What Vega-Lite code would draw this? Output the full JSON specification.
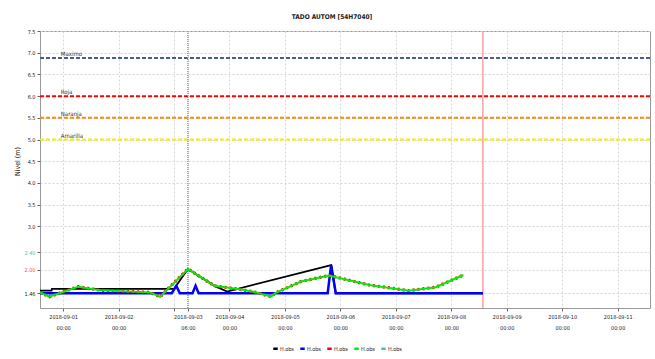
{
  "$schema": "https://vega.github.io/schema/vega-lite/v6.json",
  "width": 610,
  "height": 277,
  "autosize": "none",
  "padding": {"left": 40, "top": 31, "right": 5, "bottom": 51},
  "background": "white",
  "title": {"text": "TADO AUTOM  [54H7040]", "fontSize": 6.5, "fontWeight": "bold", "font": "DejaVu Sans Condensed", "anchor": "middle", "frame": "bounds", "offset": 9, "color": "#222"},
  "config": {
    "view": {"stroke": "#999", "strokeWidth": 1},
    "font": "DejaVu Sans Condensed",
    "axis": {"labelFont": "DejaVu Sans Condensed", "labelFontSize": 5.5, "labelColor": "#222", "gridColor": "#d6d6d6", "gridDash": [2, 2], "domain": false, "tickColor": "#666", "tickSize": 3}
  },
  "datasets": {
    "series": [
      {"t": "2018-08-31T14:00", "v": 1.52, "s": "s1"},
      {"t": "2018-08-31T19:00", "v": 1.52, "s": "s1"},
      {"t": "2018-08-31T19:10", "v": 1.56, "s": "s1"},
      {"t": "2018-09-03T00:00", "v": 1.56, "s": "s1"},
      {"t": "2018-09-03T06:00", "v": 2.02, "s": "s1"},
      {"t": "2018-09-03T17:30", "v": 1.63, "s": "s1"},
      {"t": "2018-09-03T23:00", "v": 1.5, "s": "s1"},
      {"t": "2018-09-05T20:00", "v": 2.11, "s": "s1"},
      {"t": "2018-09-05T22:00", "v": 1.46, "s": "s1"},
      {"t": "2018-09-08T13:40", "v": 1.46, "s": "s1"},
      {"t": "2018-08-31T14:00", "v": 1.46, "s": "s2"},
      {"t": "2018-09-02T23:00", "v": 1.46, "s": "s2"},
      {"t": "2018-09-03T01:00", "v": 1.63, "s": "s2"},
      {"t": "2018-09-03T02:30", "v": 1.46, "s": "s2"},
      {"t": "2018-09-03T08:00", "v": 1.46, "s": "s2"},
      {"t": "2018-09-03T09:20", "v": 1.63, "s": "s2"},
      {"t": "2018-09-03T10:40", "v": 1.46, "s": "s2"},
      {"t": "2018-09-05T18:30", "v": 1.46, "s": "s2"},
      {"t": "2018-09-05T20:00", "v": 2.11, "s": "s2"},
      {"t": "2018-09-05T22:00", "v": 1.46, "s": "s2"},
      {"t": "2018-09-08T13:40", "v": 1.46, "s": "s2"},
      {"t": "2018-08-31T14:00", "v": 1.48, "s": "s3"},
      {"t": "2018-08-31T18:00", "v": 1.38, "s": "s3"},
      {"t": "2018-09-01T06:30", "v": 1.61, "s": "s3"},
      {"t": "2018-09-01T16:00", "v": 1.53, "s": "s3"},
      {"t": "2018-09-02T13:30", "v": 1.48, "s": "s3"},
      {"t": "2018-09-02T18:00", "v": 1.38, "s": "s3"},
      {"t": "2018-09-03T06:00", "v": 2.02, "s": "s3"},
      {"t": "2018-09-03T17:30", "v": 1.63, "s": "s3"},
      {"t": "2018-09-04T05:45", "v": 1.54, "s": "s3"},
      {"t": "2018-09-04T11:30", "v": 1.48, "s": "s3"},
      {"t": "2018-09-04T18:00", "v": 1.38, "s": "s3"},
      {"t": "2018-09-04T20:00", "v": 1.47, "s": "s3"},
      {"t": "2018-09-05T07:00", "v": 1.73, "s": "s3"},
      {"t": "2018-09-05T19:00", "v": 1.87, "s": "s3"},
      {"t": "2018-09-06T12:30", "v": 1.65, "s": "s3"},
      {"t": "2018-09-07T05:30", "v": 1.52, "s": "s3"},
      {"t": "2018-09-07T17:15", "v": 1.6, "s": "s3"},
      {"t": "2018-09-08T05:15", "v": 1.88, "s": "s3"},
      {"t": "2018-08-31T14:00", "v": 1.48, "s": "s4"},
      {"t": "2018-08-31T18:00", "v": 1.38, "s": "s4"},
      {"t": "2018-09-01T06:30", "v": 1.61, "s": "s4"},
      {"t": "2018-09-01T16:00", "v": 1.53, "s": "s4"},
      {"t": "2018-09-02T13:30", "v": 1.48, "s": "s4"},
      {"t": "2018-09-02T18:00", "v": 1.38, "s": "s4"},
      {"t": "2018-09-03T06:00", "v": 2.02, "s": "s4"},
      {"t": "2018-09-03T17:30", "v": 1.63, "s": "s4"},
      {"t": "2018-09-04T05:45", "v": 1.54, "s": "s4"},
      {"t": "2018-09-04T11:30", "v": 1.48, "s": "s4"},
      {"t": "2018-09-04T18:00", "v": 1.38, "s": "s4"},
      {"t": "2018-09-04T20:00", "v": 1.47, "s": "s4"},
      {"t": "2018-09-05T07:00", "v": 1.73, "s": "s4"},
      {"t": "2018-09-05T19:00", "v": 1.87, "s": "s4"},
      {"t": "2018-09-06T12:30", "v": 1.65, "s": "s4"},
      {"t": "2018-09-07T05:30", "v": 1.52, "s": "s4"},
      {"t": "2018-09-07T17:15", "v": 1.6, "s": "s4"},
      {"t": "2018-09-08T05:15", "v": 1.88, "s": "s4"}
    ],
    "umbrales": [
      {"nombre": "Maximo", "v": 6.88, "t": "2018-08-31T23:00"},
      {"nombre": "Roja", "v": 6.0, "t": "2018-08-31T23:00"},
      {"nombre": "Naranja", "v": 5.5, "t": "2018-08-31T23:00"},
      {"nombre": "Amarilla", "v": 5.0, "t": "2018-08-31T23:00"}
    ],
    "marcas": [
      {"tipo": "ref", "t": "2018-09-03T06:00"},
      {"tipo": "ahora", "t": "2018-09-08T13:40"}
    ]
  },
  "encoding": {
    "x": {
      "field": "t", "type": "temporal",
      "scale": {"domain": ["2018-08-31T14:00", "2018-09-11T14:00"], "nice": false},
      "axis": {
        "title": null,
        "values": ["2018-09-01T00:00", "2018-09-02T00:00", "2018-09-03T00:00", "2018-09-03T06:00", "2018-09-04T00:00", "2018-09-05T00:00", "2018-09-06T00:00", "2018-09-07T00:00", "2018-09-08T00:00", "2018-09-09T00:00", "2018-09-10T00:00", "2018-09-11T00:00"],
        "labelExpr": "timeFormat(datum.value, '%Y-%m-%d %H:%M') == '2018-09-03 00:00' ? '' : [timeFormat(datum.value, '%Y-%m-%d'), timeFormat(datum.value, '%H:%M')]",
        "labelLineHeight": 11,
        "labelPadding": 3,
        "labelOverlap": false
      }
    },
    "y": {
      "field": "v", "type": "quantitative",
      "scale": {"domain": [1.12, 7.5], "nice": false, "zero": false},
      "axis": {
        "title": "Nivel (m)",
        "titleFontSize": 7,
        "titleFontWeight": "normal",
        "titleFont": "DejaVu Sans Condensed",
        "titleX": -20,
        "titleY": 130,
        "titleColor": "#222",
        "values": [1.46, 2.0, 2.4, 3.0, 3.5, 4.0, 4.5, 5.0, 5.5, 6.0, 6.5, 7.0, 7.5],
        "labelExpr": "datum.value < 2.5 ? format(datum.value, '.2f') : format(datum.value, '.1f')",
        "labelColor": {"condition": [{"test": "abs(datum.value - 2.4) < 0.01", "value": "#3cc8c8"}, {"test": "abs(datum.value - 2.0) < 0.01", "value": "#f05050"}], "value": "#222"},
        "labelPadding": 2
      }
    }
  },
  "layer": [
    {
      "data": {"name": "umbrales"},
      "mark": {"type": "rule", "strokeWidth": 2, "strokeDash": [4, 2]},
      "encoding": {
        "x": {"value": 0},
        "x2": {"value": 610},
        "stroke": {"field": "nombre", "type": "nominal", "scale": {"domain": ["Maximo", "Roja", "Naranja", "Amarilla"], "range": ["#4d5a94", "#ff0000", "#f0900a", "#f2f200"]}, "legend": null}
      }
    },
    {
      "data": {"name": "umbrales"},
      "mark": {"type": "text", "align": "left", "baseline": "bottom", "dy": -1, "fontSize": 6, "color": "#333"},
      "encoding": {"text": {"field": "nombre"}}
    },
    {
      "data": {"name": "marcas"},
      "transform": [{"filter": "datum.tipo == 'ref'"}],
      "mark": {"type": "rule", "color": "#999", "strokeWidth": 1.5, "strokeDash": [1, 1]},
      "encoding": {"y": {"value": 0}, "y2": {"value": 277}}
    },
    {
      "data": {"name": "marcas"},
      "transform": [{"filter": "datum.tipo == 'ahora'"}],
      "mark": {"type": "rule", "color": "#f4a3a3", "strokeWidth": 1.5},
      "encoding": {"y": {"value": 0}, "y2": {"value": 277}}
    },
    {
      "data": {"name": "series"},
      "transform": [{"filter": "datum.s == 's1'"}],
      "mark": {"type": "line", "strokeWidth": 1.8},
      "encoding": {"color": {"field": "s", "type": "nominal"}}
    },
    {
      "data": {"name": "series"},
      "transform": [{"filter": "datum.s == 's2'"}],
      "mark": {"type": "line", "strokeWidth": 2.5},
      "encoding": {"color": {"field": "s", "type": "nominal"}}
    },
    {
      "data": {"name": "series"},
      "transform": [{"filter": "datum.s == 's3'"}],
      "mark": {"type": "line", "strokeWidth": 3.2, "strokeDash": [2, 3]},
      "encoding": {"color": {"field": "s", "type": "nominal"}}
    },
    {
      "data": {"name": "series"},
      "transform": [{"filter": "datum.s == 's4'"}],
      "mark": {"type": "line", "strokeWidth": 2},
      "encoding": {
        "color": {
          "field": "s", "type": "nominal",
          "scale": {"domain": ["s1", "s2", "s3", "s4", "s5"], "range": ["#000000", "#0000ff", "#ff0000", "#00ee00", "#40c8c8"]},
          "legend": {
            "title": null,
            "orient": "none",
            "legendX": 232,
            "legendY": 314,
            "direction": "horizontal",
            "symbolType": "stroke",
            "symbolStrokeWidth": 2.5,
            "symbolSize": 20,
            "labelExpr": "'H.obs'",
            "labelFontSize": 5.5,
            "labelFont": "DejaVu Sans Condensed",
            "labelColor": "#222",
            "labelOffset": 1,
            "columnPadding": 1
          }
        }
      }
    }
  ]
}
